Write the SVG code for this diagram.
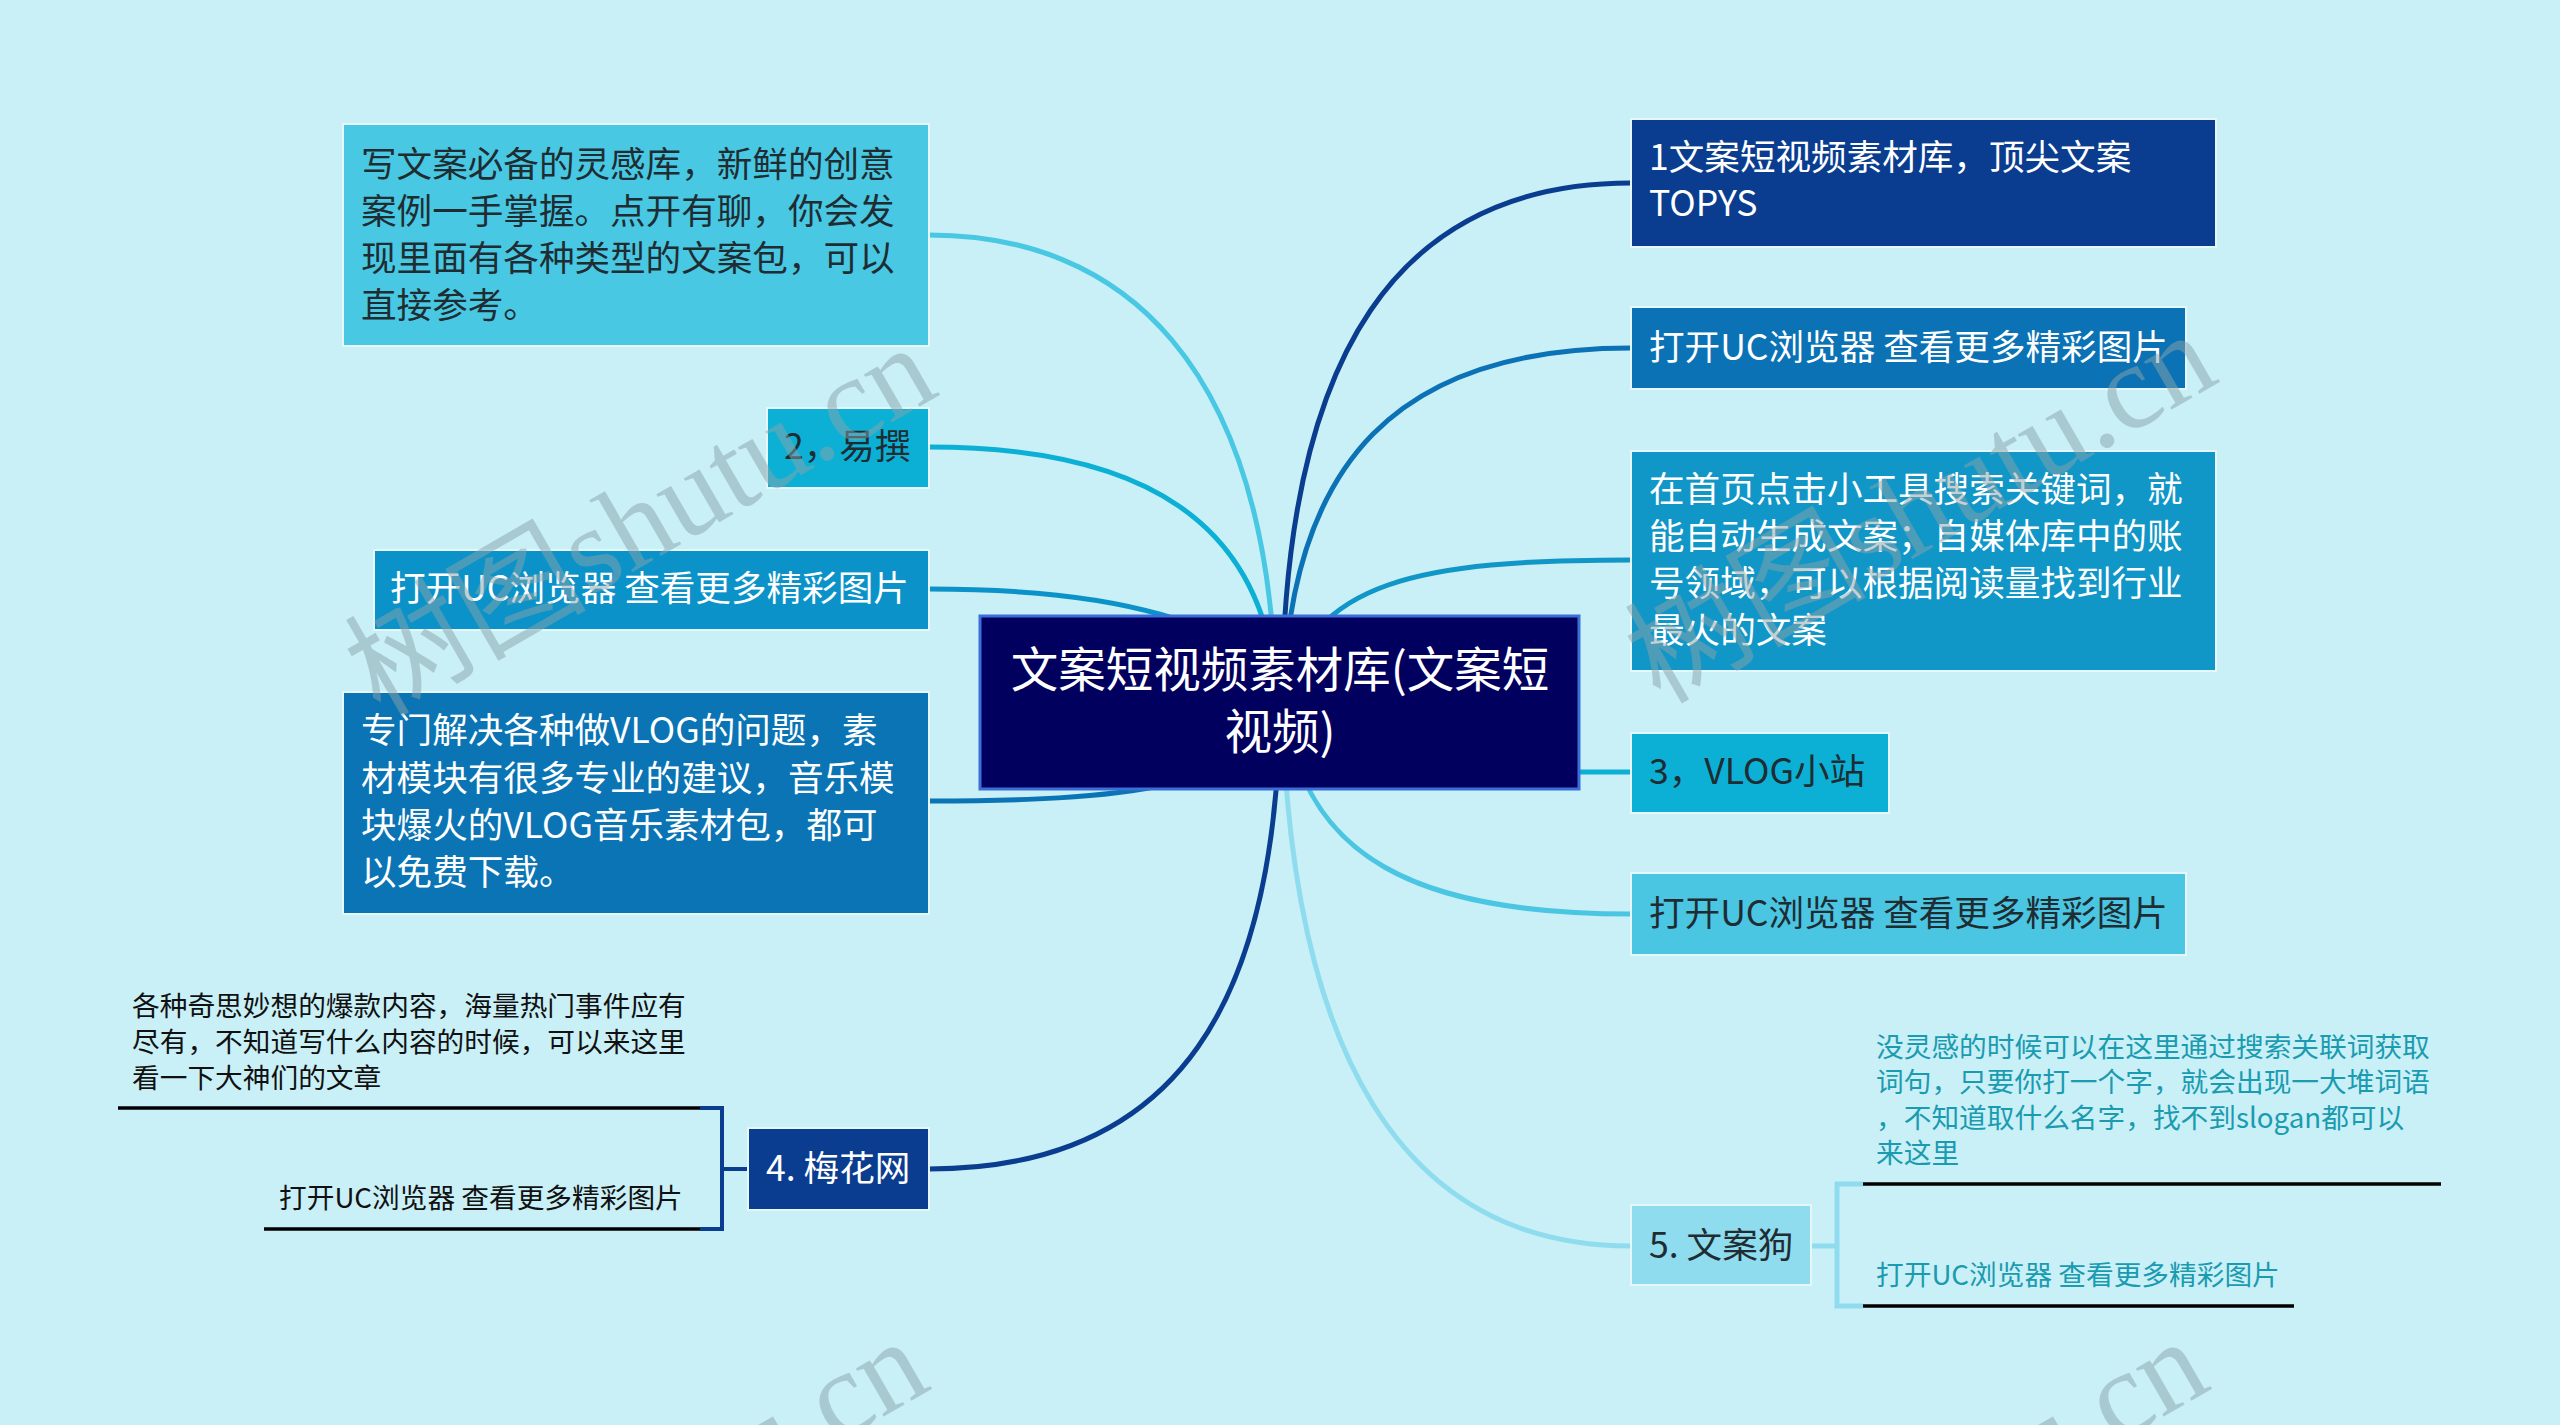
<svg xmlns="http://www.w3.org/2000/svg" width="2560" height="1425" viewBox="0 0 2560 1425">
<style>
.t{font-family:"Noto Sans CJK SC","Noto Sans",sans-serif;font-size:35.6px}
.w{fill:#ffffff}
.d{fill:#1f2d33}
.s{font-family:"Noto Sans CJK SC","Noto Sans",sans-serif;font-size:27.7px}
.box{stroke:#e6f7fb;stroke-width:2}
.c{fill:none;stroke-width:5;stroke-linecap:round}
.ul{stroke:#000;stroke-width:3.5;fill:none}
.wm{font-family:"Liberation Serif","Noto Sans CJK SC",serif;font-size:121px;fill:#8aa3a9;fill-opacity:0.5}
</style>
<rect width="2560" height="1425" fill="#c9eff7"/>
<g id="connectors">
<path class="c" stroke="#48c8e2" d="M929 235 C1120 235 1270 360 1276 700"/>
<path class="c" stroke="#0cb0d5" d="M929 447 C1140 447 1268 520 1277 700"/>
<path class="c" stroke="#0b93c9" d="M929 589 C1110 589 1250 620 1278 700"/>
<path class="c" stroke="#0a74b5" d="M929 801 C1110 801 1268 790 1279 700"/>
<path class="c" stroke="#0a3d8f" d="M929 1169 C1180 1169 1278 1000 1280 700"/>
<path class="c" stroke="#0a3d8f" d="M1631 183 C1400 183 1284 350 1282 700"/>
<path class="c" stroke="#0a72b5" d="M1631 348 C1400 348 1290 460 1283 700"/>
<path class="c" stroke="#1196c8" d="M1631 560 C1420 560 1310 580 1284 700"/>
<path class="c" stroke="#0cb0d5" d="M1570 772 H1631"/>
<path class="c" stroke="#4ac6e2" d="M1631 914 C1420 914 1300 860 1284 700"/>
<path class="c" stroke="#8fdcef" d="M1631 1246 C1400 1246 1290 1050 1282 700"/>
<path fill="none" stroke="#0a3d8f" stroke-width="4" d="M700 1108 H722 V1229 H700 M722 1169 H748"/>
<path fill="none" stroke="#8fdcef" stroke-width="5" d="M1863 1184 H1837 V1306 H1863 M1811 1246 H1837"/>
</g>
<g id="center">
<rect x="980" y="616" width="599" height="173" fill="#02005e" stroke="#3a6fd8" stroke-width="3"/>
<text class="t w" style="font-size:47.5px" text-anchor="middle"><tspan x="1280" y="687">文案短视频素材库(文案短</tspan><tspan x="1280" y="749">视频)</tspan></text>
</g>
<g id="n-l1">
<rect class="box" x="343" y="124" width="586" height="222" fill="#48c8e2"/>
<text class="t d" x="361" y="177">写文案必备的灵感库，新鲜的创意</text>
<text class="t d" x="361" y="224">案例一手掌握。点开有聊，你会发</text>
<text class="t d" x="361" y="271">现里面有各种类型的文案包，可以</text>
<text class="t d" x="361" y="318">直接参考。</text>
</g>
<g id="n-l2">
<rect class="box" x="767" y="408" width="162" height="80" fill="#0cb0d5"/>
<text class="t d" x="784" y="459">2，易撰</text>
</g>
<g id="n-l3">
<rect class="box" x="374" y="550" width="555" height="80" fill="#0b93c9"/>
<text class="t w" x="390" y="601">打开UC浏览器 查看更多精彩图片</text>
</g>
<g id="n-l4">
<rect class="box" x="343" y="692" width="586" height="222" fill="#0a74b5"/>
<text class="t w" x="361" y="743">专门解决各种做VLOG的问题，素</text>
<text class="t w" x="361" y="791">材模块有很多专业的建议，音乐模</text>
<text class="t w" x="361" y="838">块爆火的VLOG音乐素材包，都可</text>
<text class="t w" x="361" y="885">以免费下载。</text>
</g>
<g id="n-l5">
<rect class="box" x="748" y="1128" width="181" height="82" fill="#0a3d8f"/>
<text class="t w" x="766" y="1181">4. 梅花网</text>
</g>
<g id="n-l5a">
<text class="s" fill="#111" x="132" y="1016">各种奇思妙想的爆款内容，海量热门事件应有</text>
<text class="s" fill="#111" x="132" y="1052">尽有，不知道写什么内容的时候，可以来这里</text>
<text class="s" fill="#111" x="132" y="1088">看一下大神们的文章</text>
<line class="ul" x1="118" y1="1108" x2="700" y2="1108"/>
</g>
<g id="n-l5b">
<text class="s" fill="#111" x="279" y="1208">打开UC浏览器 查看更多精彩图片</text>
<line class="ul" x1="264" y1="1229" x2="700" y2="1229"/>
</g>
<g id="n-r1">
<rect class="box" x="1631" y="119" width="585" height="128" fill="#0a3d8f"/>
<text class="t w" x="1649" y="170">1文案短视频素材库，顶尖文案</text>
<text class="t w" x="1649" y="216">TOPYS</text>
</g>
<g id="n-r2">
<rect class="box" x="1631" y="307" width="555" height="82" fill="#0a72b5"/>
<text class="t w" x="1649" y="360">打开UC浏览器 查看更多精彩图片</text>
</g>
<g id="n-r3">
<rect class="box" x="1631" y="451" width="585" height="220" fill="#1196c8"/>
<text class="t w" x="1649" y="502">在首页点击小工具搜索关键词，就</text>
<text class="t w" x="1649" y="549">能自动生成文案；自媒体库中的账</text>
<text class="t w" x="1649" y="596">号领域，可以根据阅读量找到行业</text>
<text class="t w" x="1649" y="643">最火的文案</text>
</g>
<g id="n-r4">
<rect class="box" x="1631" y="733" width="258" height="80" fill="#0cb0d5"/>
<text class="t d" x="1649" y="784">3，VLOG小站</text>
</g>
<g id="n-r5">
<rect class="box" x="1631" y="873" width="555" height="82" fill="#4ac6e2"/>
<text class="t d" x="1649" y="926">打开UC浏览器 查看更多精彩图片</text>
</g>
<g id="n-r6">
<rect class="box" x="1631" y="1205" width="180" height="80" fill="#8fdcef"/>
<text class="t d" x="1649" y="1258">5. 文案狗</text>
</g>
<g id="n-r6a">
<text class="s" fill="#1a9bb0" x="1876" y="1057">没灵感的时候可以在这里通过搜索关联词获取</text>
<text class="s" fill="#1a9bb0" x="1876" y="1092">词句，只要你打一个字，就会出现一大堆词语</text>
<text class="s" fill="#1a9bb0" x="1876" y="1128">，不知道取什么名字，找不到slogan都可以</text>
<text class="s" fill="#1a9bb0" x="1876" y="1163">来这里</text>
<line class="ul" x1="1863" y1="1184" x2="2441" y2="1184"/>
</g>
<g id="n-r6b">
<text class="s" fill="#1a9bb0" x="1876" y="1285">打开UC浏览器 查看更多精彩图片</text>
<line class="ul" x1="1863" y1="1306" x2="2294" y2="1306"/>
</g>
<g id="watermarks">
<text class="wm" transform="translate(380 718) rotate(-30)">树图shutu.cn</text>
<text class="wm" transform="translate(1660 705) rotate(-30)">树图shutu.cn</text>
<text class="wm" transform="translate(372 1712) rotate(-30)">树图shutu.cn</text>
<text class="wm" transform="translate(1652 1712) rotate(-30)">树图shutu.cn</text>
</g>
</svg>
